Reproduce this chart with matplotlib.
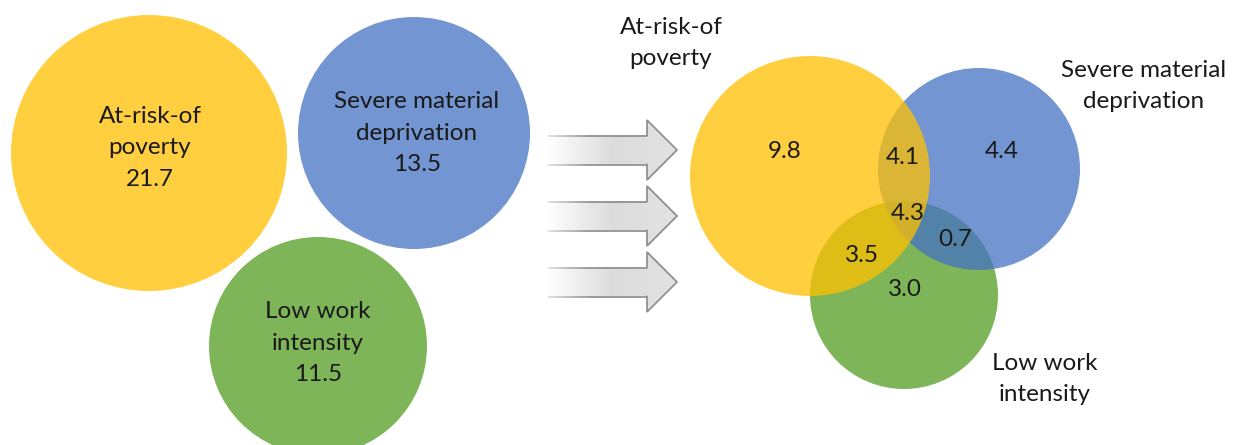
import numpy as np
import matplotlib
matplotlib.use("Agg")
import matplotlib.pyplot as plt
from matplotlib.patches import Circle, Polygon
from matplotlib.colors import LinearSegmentedColormap
from matplotlib.collections import LineCollection

# data
categories = ['At-risk-of\npoverty', 'Severe material\ndeprivation', 'Low work\nintensity']
totals = [21.7, 13.5, 11.5]
# venn regions: (only yellow, yellow+blue, only blue, all three, blue+green, yellow+green, only green)
region_names = ['AROP', 'AROP+SMD', 'SMD', 'ALL', 'SMD+LWI', 'AROP+LWI', 'LWI']
region_values = [9.8, 4.1, 4.4, 4.3, 0.7, 3.5, 3.0]

# styles
colors = ['#FFC000', '#4472C4', '#70AD47']
alphas = [0.75, 0.75, 0.9]
zorders = [4, 3, 2]
txt_col = '#1a1a1a'
FONT = 'Lato'
FS = 17.5
LS = 1.62

W, H = 1243, 445
fig = plt.figure(figsize=(W / 100, H / 100), dpi=100)
ax = fig.add_axes([0, 0, 1, 1])
ax.set_xlim(0, W)
ax.set_ylim(H, 0)
ax.set_aspect('equal')
ax.axis('off')

# left: separate circles (pixel layout)
left_xy = [(149, 153), (414, 133), (318, 346)]
left_r = [138, 116, 109]
left_txt = [(150, 148), (417, 133), (318, 343)]
for i in range(3):
    ax.add_patch(Circle(left_xy[i], left_r[i], facecolor=colors[i], alpha=alphas[i],
                        edgecolor='none', zorder=zorders[i]))
    ax.text(left_txt[i][0], left_txt[i][1], categories[i] + '\n%.1f' % totals[i],
            ha='center', va='center', fontsize=FS, family=FONT, color=txt_col,
            linespacing=LS, zorder=10)

# arrows with gradient fill
cmap = LinearSegmentedColormap.from_list('arr', ['#ffffff', '#dcdcdc', '#e2e2e2'])
grad = np.linspace(0, 1, 256).reshape(1, -1)
for yc in [150, 216, 282]:
    x0, xh, xt = 548, 647, 677
    hs, hh = 14.5, 30
    verts = [(x0, yc - hs), (xh, yc - hs), (xh, yc - hh), (xt, yc),
             (xh, yc + hh), (xh, yc + hs), (x0, yc + hs)]
    poly = Polygon(verts, closed=True, facecolor='none', edgecolor='none')
    ax.add_patch(poly)
    im = ax.imshow(grad, cmap=cmap, extent=[x0, xt, yc + hh, yc - hh],
                   aspect='auto', zorder=1, interpolation='bilinear')
    im.set_clip_path(poly)
    # outline: head solid, shaft lines fading towards the left
    ax.plot([xh, xh, xt, xh, xh], [yc - hs, yc - hh, yc, yc + hh, yc + hs],
            color='#8a8a8a', lw=1.2, zorder=2, solid_joinstyle='miter')
    xs = np.linspace(x0, xh, 40)
    for yy in (yc - hs, yc + hs):
        segs = [[(xs[k], yy), (xs[k + 1], yy)] for k in range(len(xs) - 1)]
        t = np.clip((xs[:-1] - x0) / 40.0, 0, 1)
        cols = [(0.85 - 0.31 * v, 0.85 - 0.31 * v, 0.85 - 0.31 * v) for v in t]
        ax.add_collection(LineCollection(segs, colors=cols, linewidths=1.2, zorder=2))

# right: venn diagram
venn_xy = [(810, 176), (979, 169), (904, 295)]
venn_r = [120, 101, 94]
for i in range(3):
    ax.add_patch(Circle(venn_xy[i], venn_r[i], facecolor=colors[i], alpha=alphas[i],
                        edgecolor='none', zorder=zorders[i]))

region_pos = [(785, 152), (903, 157), (1002, 152), (908, 213), (955, 240), (862, 256), (905, 290)]
for (x, y), v in zip(region_pos, region_values):
    ax.text(x, y, '%.1f' % v, ha='center', va='center', fontsize=FS, family=FONT,
            color=txt_col, zorder=10)

label_pos = [(671, 43), (1144, 86), (1045, 379)]
for (x, y), lab in zip(label_pos, categories):
    ax.text(x, y, lab, ha='center', va='center', fontsize=FS, family=FONT,
            color=txt_col, linespacing=LS, zorder=10)

fig.savefig('out.png', dpi=100, facecolor='white')
